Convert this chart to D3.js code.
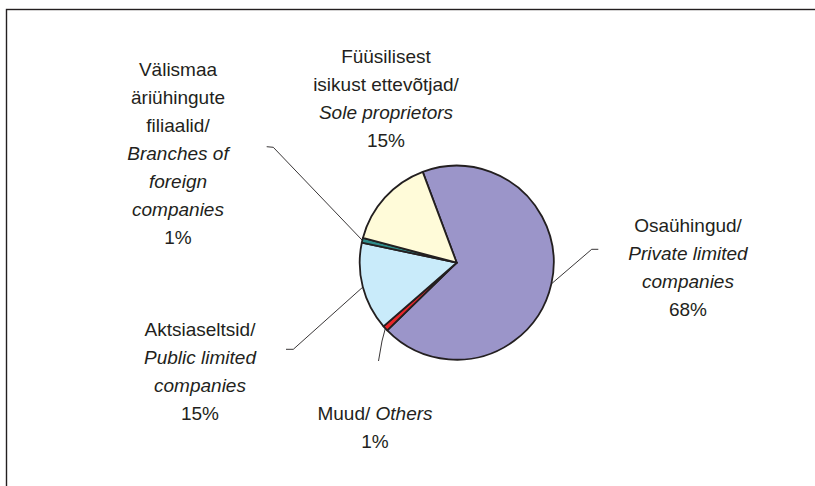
<!DOCTYPE html>
<html>
<head>
<meta charset="utf-8">
<script src="https://cdn.jsdelivr.net/npm/d3@7"></script>
<style>
  html, body { margin: 0; padding: 0; background: #fff; }
  svg { display: block; }
</style>
</head>
<body>
<svg id="chart" width="815" height="486"></svg>
<script>
// ---- data ----
const categoriesEt = ["Osaühingud/", "Muud/", "Aktsiaseltsid/", "Välismaa äriühingute filiaalid/", "Füüsilisest isikust ettevõtjad/"];
const categoriesEn = ["Private limited companies", "Others", "Public limited companies", "Branches of foreign companies", "Sole proprietors"];
const shares = [68.4, 0.9, 14.7, 0.8, 15.2];

// ---- styles / layout ----
const colors = ["#9b95c9", "#e8262a", "#c9ebfa", "#2e8c8a", "#fffbd9"];
const ink = "#231f20";
const cx = 456.7, cy = 262.7, R = 97;
const startDeg = -20.5;
const fontSize = 19, lineH = 28;

// label blocks: lines as [text, italic], with centre x and first baseline
const labelLines = [
  [["Osaühingud/", false], ["Private limited", true], ["companies", true]],
  [["Muud/ ", false, "Others"]],
  [["Aktsiaseltsid/", false], ["Public limited", true], ["companies", true]],
  [["Välismaa", false], ["äriühingute", false], ["filiaalid/", false], ["Branches of", true], ["foreign", true], ["companies", true]],
  [["Füüsilisest", false], ["isikust ettevõtjad/", false], ["Sole proprietors", true]]
];
const labelPos = [
  {x: 688, y: 232},
  {x: 375, y: 420},
  {x: 200, y: 336},
  {x: 178, y: 76},
  {x: 386, y: 63}
];
// leader-line elbows: [elbow, end]; null = no leader
const leaders = [
  [[591.7, 249.3], [598.3, 249.3]],
  [[382, 341], [378.5, 361]],
  [[293.3, 349.3], [286, 349.3]],
  [[273.3, 147.3], [266.7, 146.7]],
  null
];

const svg = d3.select("#chart");

// frame (only top/left edges visible)
svg.append("rect")
  .attr("x", 6.5).attr("y", 9.5)
  .attr("width", 1000).attr("height", 1000)
  .attr("fill", "none").attr("stroke", ink).attr("stroke-width", 1.4);

const pie = d3.pie().sort(null).value(d => d)
  .startAngle(startDeg * Math.PI / 180)
  .endAngle((startDeg + 360) * Math.PI / 180);
const arcs = pie(shares);
const arc = d3.arc().innerRadius(0).outerRadius(R);

const g = svg.append("g").attr("transform", `translate(${cx},${cy})`);
g.selectAll("path.slice").data(arcs).enter().append("path")
  .attr("class", "slice")
  .attr("d", arc)
  .attr("fill", (d, i) => colors[i])
  .attr("stroke", ink)
  .attr("stroke-width", 1.8)
  .attr("stroke-linejoin", "round");

// leader lines
arcs.forEach((d, i) => {
  if (!leaders[i]) return;
  const a = (d.startAngle + d.endAngle) / 2;
  const p0 = [cx + R * Math.sin(a), cy - R * Math.cos(a)];
  const pts = [p0, leaders[i][0], leaders[i][1]];
  svg.append("path")
    .attr("d", d3.line()(pts))
    .attr("fill", "none")
    .attr("stroke", ink)
    .attr("stroke-width", 0.9);
});

// labels
const fmt = v => Math.round(v) + "%";
const labelsG = svg.append("g")
  .attr("font-family", "'Liberation Sans', Arial, Helvetica, sans-serif")
  .attr("font-size", fontSize)
  .attr("fill", ink)
  .attr("text-anchor", "middle");

labelLines.forEach((lines, i) => {
  const pos = labelPos[i];
  lines.forEach((ln, j) => {
    const t = labelsG.append("text")
      .attr("x", pos.x)
      .attr("y", pos.y + j * lineH);
    if (ln.length === 3) {
      t.append("tspan").text(ln[0]);
      t.append("tspan").attr("font-style", "italic").text(ln[2]);
    } else {
      t.text(ln[0]).attr("font-style", ln[1] ? "italic" : "normal");
    }
  });
  labelsG.append("text")
    .attr("x", pos.x)
    .attr("y", pos.y + lines.length * lineH)
    .text(fmt(shares[i]));
});
</script>
</body>
</html>
